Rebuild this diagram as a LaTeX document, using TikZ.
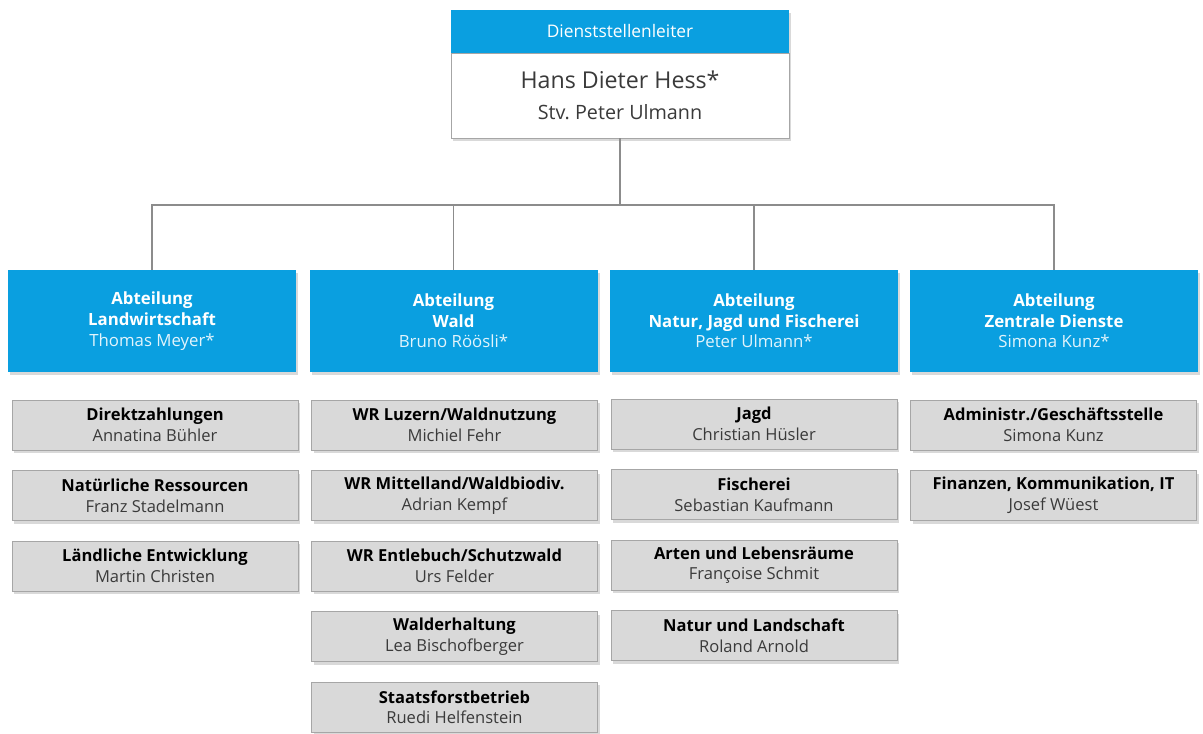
\documentclass[tikz,border=0pt]{standalone}
\usepackage{fontspec}
\setmainfont{Open Sans}
\usetikzlibrary{positioning,chains,shadows}
\definecolor{abtblue}{HTML}{0A9FE0}
\definecolor{unitgray}{HTML}{D9D9D9}
\definecolor{unitline}{HTML}{A6A6A6}
\definecolor{linkgray}{HTML}{8C8C8C}
\definecolor{namegray}{HTML}{3A3A3A}
\definecolor{lightname}{HTML}{E2F4FC}
\newcommand{\unittext}[2]{{\bfseries\color{black}#1}\\{\color{namegray}#2}}
\newcommand{\depttext}[2]{{\bfseries Abteilung}\\{\bfseries #1}\\{\color{lightname}#2}}

\begin{document}
\begin{tikzpicture}[x=0.75pt,y=-0.75pt,
  shade/.style={drop shadow={opacity=.3,shadow xshift=1.5pt,shadow yshift=-2.5pt}},
  head/.style={fill=abtblue,text=white,minimum width=253.5pt,minimum height=32.25pt,
    inner sep=0pt,shade,font=\fontsize{13}{15}\selectfont},
  chef/.style={draw=unitline,fill=white,minimum width=253.5pt,minimum height=63.75pt,
    align=center,inner sep=0pt,shade,text=namegray,font=\fontsize{14.8}{23}\selectfont},
  dept/.style={fill=abtblue,text=white,minimum width=216pt,minimum height=76.5pt,
    align=center,inner sep=0pt,shade,font=\fontsize{12.6}{15.5}\selectfont},
  unit/.style={draw=unitline,fill=unitgray,minimum width=214.5pt,minimum height=37.5pt,
    align=center,inner sep=0pt,shade,font=\fontsize{12.4}{15.5}\selectfont,on chain},
  link/.style={draw=linkgray,line width=1.2pt}]

\useasboundingbox (0,0) rectangle (1203,734);

%leitung
\node[head] (chiefhead) at (620,31.5) {Dienststellenleiter};
\node[chef] (chief) at (620,95.5) {{\fontsize{17.4}{23}\selectfont Hans Dieter Hess*}\\
  Stv.\ Peter Ulmann};

%abteilungen
\node[dept] (lw) at (152,321) {\depttext{Landwirtschaft}{Thomas Meyer*}};
\node[dept] (wald) at (453.5,321) {\depttext{Wald}{Bruno Röösli*}};
\node[dept] (njf) at (754,321) {\depttext{Natur, Jagd und Fischerei}{Peter Ulmann*}};
\node[dept] (zd) at (1054,321) {\depttext{Zentrale Dienste}{Simona Kunz*}};

\coordinate (bus) at (620,205);
\draw[link] (chief.south) -- (bus);
\foreach \D in {lw,wald,njf,zd}
{\draw[link] (bus) -| (\D.north); }

%landwirtschaft
\begin{scope}[start chain=lwc going below,node distance=15pt]
\node[unit] (lw1) at (155,425) {\unittext{Direktzahlungen}{Annatina Bühler}};
\node[unit] (lw2) {\unittext{Natürliche Ressourcen}{Franz Stadelmann}};
\node[unit] (lw3) {\unittext{Ländliche Entwicklung}{Martin Christen}};
\end{scope}

%wald
\begin{scope}[start chain=waldc going below,node distance=15pt]
\node[unit] (wald1) at (454.5,425) {\unittext{WR Luzern/Waldnutzung}{Michiel Fehr}};
\node[unit] (wald2) {\unittext{WR Mittelland/Waldbiodiv.}{Adrian Kempf}};
\node[unit] (wald3) {\unittext{WR Entlebuch/Schutzwald}{Urs Felder}};
\node[unit] (wald4) {\unittext{Walderhaltung}{Lea Bischofberger}};
\node[unit] (wald5) {\unittext{Staatsforstbetrieb}{Ruedi Helfenstein}};
\end{scope}

%natur, jagd, fischerei
\begin{scope}[start chain=njfc going below,node distance=15pt]
\node[unit] (njf1) at (754,424) {\unittext{Jagd}{Christian Hüsler}};
\node[unit] (njf2) {\unittext{Fischerei}{Sebastian Kaufmann}};
\node[unit] (njf3) {\unittext{Arten und Lebensräume}{Françoise Schmit}};
\node[unit] (njf4) {\unittext{Natur und Landschaft}{Roland Arnold}};
\end{scope}

%zentrale dienste
\begin{scope}[start chain=zdc going below,node distance=15pt]
\node[unit] (zd1) at (1053.5,425) {\unittext{Administr./Geschäftsstelle}{Simona Kunz}};
\node[unit] (zd2) {\unittext{Finanzen, Kommunikation, IT}{Josef Wüest}};
\end{scope}
\end{tikzpicture}
\end{document}
